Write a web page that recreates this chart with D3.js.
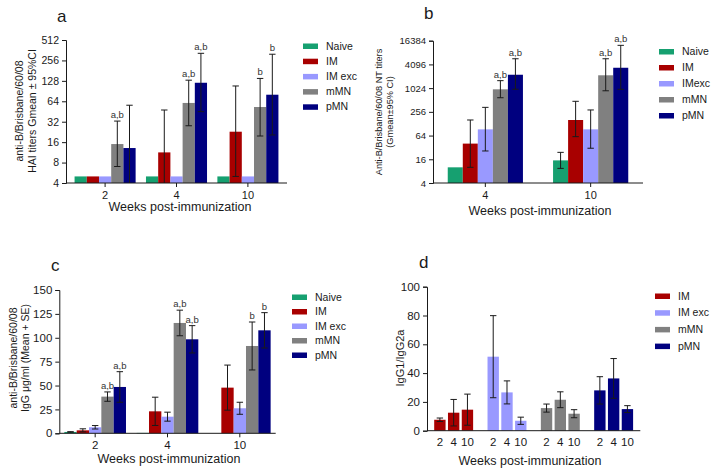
<!DOCTYPE html>
<html><head><meta charset="utf-8">
<script src="https://cdn.jsdelivr.net/npm/d3@7"></script>
<style>
body{margin:0;background:#fff;}
svg{display:block;font-family:"Liberation Sans",Arial,sans-serif;}
</style></head>
<body><svg id="c" width="714" height="475"></svg>
<script>
// ---------- DATA ----------
const seriesFive = ["Naive","IM","IM exc","mMN","pMN"];
const seriesFiveB = ["Naive","IM","IMexc","mMN","pMN"];
const seriesFour = ["IM","IM exc","mMN","pMN"];
const colorsFive = ["#16a070","#a80000","#9999ff","#808080","#00007f"];
const colorsFour = ["#a80000","#9999ff","#808080","#00007f"];

// Panel a: HAI titers (Gmean, 95% CI)
const weeksA = ["2","4","10"];
const haiTicks = [4,8,16,32,64,128,256,512];
const haiGmean = [[5,5,5],[5,11.3,22.8],[5,5,5],[15,60.5,52.7],[13.1,120,80]];
const haiUpper = [[null,null,null],[null,47.6,107.6],[null,null,null],[32.7,131,139],[56,326,316]];
const haiLower = [[null,null,null],[null,4,5],[null,null,null],[7,27.9,19.7],[4,45,20.4]];
const haiNotes = [["","",""],["","",""],["","",""],["a,b","a,b","b"],["","a,b","b"]];

// Panel b: NT titers (Gmean, 95% CI)
const weeksB = ["4","10"];
const ntTicks = [4,16,64,256,1024,4096,16384];
const ntGmean = [[10,15],[40,159],[92,92],[955,2170],[2240,3370]];
const ntUpper = [[null,24],[159,474],[333,286],[1585,5700],[5700,12500]];
const ntLower = [[null,9.4],[10,60],[26,30.5],[584,877],[960,955]];
const ntNotes = [["",""],["",""],["",""],["a,b","a,b"],["a,b","a,b"]];

// Panel c: IgG ug/ml (Mean + SE)
const weeksC = ["2","4","10"];
const iggTicks = [0,25,50,75,100,125,150];
const iggMean = [[1.4,0.4,0],[3.1,23,47.8],[6.3,17.4,26.2],[38.4,115.5,91.4],[48.5,98.4,107.8]];
const iggSE = [[0.3,0,0],[1.6,14.8,23.6],[1.8,4.7,6.3],[4.9,13.4,25.1],[16,14.3,18.5]];
const iggNotes = [["","",""],["","",""],["","",""],["a,b","a,b","b"],["a,b","a,b","b"]];

// Panel d: IgG1/IgG2a ratio
const weeksD = ["2","4","10"];
const ratioTicks = [0,20,40,60,80,100];
const ratioMean = [[7.6,12.5,14.6],[51.4,26.6,6.9],[15.7,21.5,11.8],[28,36.3,15]];
const ratioErr = [[1.2,9.2,10.8],[28.5,8,2.5],[2.8,5.5,2.8],[9.5,13.8,2.4]];

// ---------- DRAW ----------
const svg = d3.select("#c");
const ink = "#1a1a1a";
const capW = 3.2;

function styleAxis(g){
  g.selectAll("path").attr("stroke", ink).attr("stroke-width",1);
  g.selectAll("line").attr("stroke", ink).attr("stroke-width",1);
  g.selectAll("text").attr("fill", ink);
}

function errBar(g, x, yTop, yBot, capTop, capBot){
  g.append("line").attr("x1",x).attr("x2",x).attr("y1",yTop).attr("y2",yBot)
    .attr("stroke",ink).attr("stroke-width",1);
  if(capTop) g.append("line").attr("x1",x-capW).attr("x2",x+capW).attr("y1",yTop).attr("y2",yTop)
    .attr("stroke",ink).attr("stroke-width",1);
  if(capBot) g.append("line").attr("x1",x-capW).attr("x2",x+capW).attr("y1",yBot).attr("y2",yBot)
    .attr("stroke",ink).attr("stroke-width",1);
}

function legend(items, colors, x, y0, dy, fs){
  const g = svg.append("g");
  items.forEach((s,i)=>{
    g.append("rect").attr("x",x).attr("y",y0+i*dy-2.5).attr("width",15).attr("height",5.5).attr("fill",colors[i]);
    g.append("text").attr("x",x+23).attr("y",y0+i*dy).attr("dy","0.35em")
      .attr("font-size",fs).attr("fill",ink).text(s);
  });
}

function yLabel(lines, cx, cy, fs, lh){
  const g = svg.append("g").attr("transform",`translate(${cx},${cy}) rotate(-90)`);
  lines.forEach((t,i)=>{
    g.append("text").attr("x",0).attr("y",(i-(lines.length-1)/2)*lh).attr("dy","0.35em")
      .attr("text-anchor","middle").attr("font-size",fs).attr("fill",ink).text(t);
  });
}

function title(t,x,y){
  svg.append("text").attr("x",x).attr("y",y).attr("dy","0.35em").attr("font-size",17).attr("fill",ink).text(t);
}

// Grouped bar panel (a, b, c)
function groupedPanel(o){
  const x0 = d3.scaleBand().domain(o.weeks).range(o.xr).paddingInner(o.pi).paddingOuter(o.po);
  const x1 = d3.scaleBand().domain(d3.range(o.series.length)).range([0,x0.bandwidth()]);
  const y = o.y;
  const base = y.range()[0];
  const g = svg.append("g");
  o.mean.forEach((vals,si)=>{
    vals.forEach((v,wi)=>{
      if(v==null || v<=0) return;
      const yy = y(v);
      g.append("rect").attr("x",x0(o.weeks[wi])+x1(si)).attr("y",yy)
        .attr("width",x1.bandwidth()).attr("height",Math.max(0,base-yy)).attr("fill",o.colors[si]);
    });
  });
  o.mean.forEach((vals,si)=>{
    vals.forEach((v,wi)=>{
      const hi = o.hi(si,wi), lo = o.lo(si,wi);
      const cx = x0(o.weeks[wi])+x1(si)+x1.bandwidth()/2;
      if(hi!=null){
        const dmin = y.domain()[0];
        const loC = (lo==null||lo<=dmin)? dmin : lo;
        errBar(g, cx, y(hi), y(loC), true, loC>dmin);
      }
      const note = o.notes[si][wi];
      if(note){
        g.append("text").attr("x",cx).attr("y",y(hi!=null?hi:v)-3).attr("text-anchor","middle")
          .attr("font-size",9.5).attr("fill","#333").text(note);
      }
    });
  });
  const ya = svg.append("g").attr("transform",`translate(${o.xr[0]},0)`)
    .call(d3.axisLeft(y).tickValues(o.ticks).tickFormat(d3.format("d")).tickSizeOuter(0).tickSize(4).tickPadding(3));
  ya.selectAll("text").attr("font-size",o.tfs);
  styleAxis(ya);
  const xa = svg.append("g").attr("transform",`translate(0,${base})`)
    .call(d3.axisBottom(x0).tickSizeOuter(0).tickSize(4).tickPadding(4));
  xa.select(".domain").attr("d",`M${o.xr[0]},0H${o.xr[1]}`);
  xa.selectAll("text").attr("font-size",o.xfs);
  styleAxis(xa);
  svg.append("text").attr("x",o.xlab[0]).attr("y",o.xlab[1]).attr("dy","0.35em")
    .attr("text-anchor","middle").attr("font-size",12.5).attr("fill",ink).text("Weeks post-immunization");
}

// Panel a
groupedPanel({
  weeks:weeksA, series:seriesFive, colors:colorsFive, xr:[66,287], pi:0.145, po:0.12,
  y:d3.scaleLog().base(2).domain([4,512]).range([183,40]), ticks:haiTicks,
  mean:haiGmean, hi:(s,w)=>haiUpper[s][w], lo:(s,w)=>haiLower[s][w], notes:haiNotes,
  tfs:10.5, xfs:11, xlab:[180,207]
});
title("a",57,16);
yLabel(["anti-B/Brisbane/60/08","HAI titers Gmean \u00b1 95%CI"],26,111,10.5,13);
legend(seriesFive,colorsFive,303,46,15.2,10.5);

// Panel b
groupedPanel({
  weeks:weeksB, series:seriesFiveB, colors:colorsFive, xr:[433,643], pi:0.286, po:0.14,
  y:d3.scaleLog().base(2).domain([4,16384]).range([183,40.7]), ticks:ntTicks,
  mean:ntGmean, hi:(s,w)=>ntUpper[s][w], lo:(s,w)=>ntLower[s][w], notes:ntNotes,
  tfs:9.5, xfs:11, xlab:[540,211]
});
title("b",424,13);
yLabel(["Anti-B/Brisbane/60/08 NT titers","(Gmean\u00b195% CI)"],384.5,112,9.2,11.5);
legend(seriesFiveB,colorsFive,659,51.5,16,10.5);

// Panel c
groupedPanel({
  weeks:weeksC, series:seriesFive, colors:colorsFive, xr:[59.3,275.7], pi:0.148, po:0.07,
  y:d3.scaleLinear().domain([0,150]).range([433.3,290]), ticks:iggTicks,
  mean:iggMean, hi:(s,w)=>iggSE[s][w]>0?iggMean[s][w]+iggSE[s][w]:null,
  lo:(s,w)=>iggMean[s][w]-iggSE[s][w], notes:iggNotes,
  tfs:11.5, xfs:11.5, xlab:[169,458.5]
});
title("c",51,265);
yLabel(["anti-B/Brisbane/60/08","IgG \u03bcg/ml (Mean + SE)"],19,358,10.5,12);
legend(seriesFive,colorsFive,292,297,14.5,10.5);

// Panel d
(function(){
  const xr=[427,640.3];
  const xg = d3.scaleBand().domain(seriesFour).range(xr).paddingInner(0.27).paddingOuter(0.135);
  const xw = d3.scaleBand().domain(weeksD).range([0,xg.bandwidth()]).paddingInner(0.175);
  const y = d3.scaleLinear().domain([0,100]).range([430.7,286.7]);
  const g = svg.append("g");
  ratioMean.forEach((vals,si)=>vals.forEach((v,wi)=>{
    g.append("rect").attr("x",xg(seriesFour[si])+xw(weeksD[wi])).attr("y",y(v))
      .attr("width",xw.bandwidth()).attr("height",y(0)-y(v)).attr("fill",colorsFour[si]);
  }));
  ratioMean.forEach((vals,si)=>vals.forEach((v,wi)=>{
    const cx = xg(seriesFour[si])+xw(weeksD[wi])+xw.bandwidth()/2;
    const e = ratioErr[si][wi];
    errBar(g,cx,y(v+e),y(v-e),true,true);
    g.append("text").attr("x",cx).attr("y",441.7).attr("dy","0.35em").attr("text-anchor","middle")
      .attr("font-size",11.5).attr("fill",ink).text(weeksD[wi]);
  }));
  const ya = svg.append("g").attr("transform",`translate(${xr[0]},0)`)
    .call(d3.axisLeft(y).tickValues(ratioTicks).tickSizeOuter(0).tickSize(4).tickPadding(3));
  ya.selectAll("text").attr("font-size",11.5);
  styleAxis(ya);
  svg.append("line").attr("x1",xr[0]).attr("x2",xr[1]).attr("y1",y(0)).attr("y2",y(0))
    .attr("stroke",ink).attr("stroke-width",1);
  svg.append("text").attr("x",530).attr("y",460.7).attr("dy","0.35em")
    .attr("text-anchor","middle").attr("font-size",12.5).attr("fill",ink).text("Weeks post-immunization");
})();
title("d",419,262);
yLabel(["IgG1/IgG2a"],400,358,11,12);
legend(seriesFour,colorsFour,655,296,16.7,10.5);
</script></body></html>
